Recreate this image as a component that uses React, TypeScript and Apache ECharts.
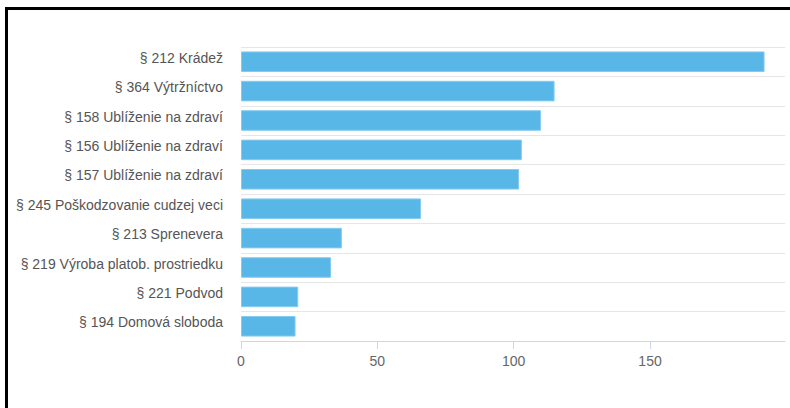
import React, { useEffect, useRef } from "react";
import * as echarts from "echarts";

const categories = [
  "§ 212 Krádež",
  "§ 364 Výtržníctvo",
  "§ 158 Ublíženie na zdraví",
  "§ 156 Ublíženie na zdraví",
  "§ 157 Ublíženie na zdraví",
  "§ 245 Poškodzovanie cudzej veci",
  "§ 213 Sprenevera",
  "§ 219 Výroba platob. prostriedku",
  "§ 221 Podvod",
  "§ 194 Domová sloboda",
];
const values = [192, 115, 110, 103, 102, 66, 37, 33, 21, 20];
const xTicks = [0, 50, 100, 150];

const FONT = "'Liberation Sans', Arial, sans-serif";

export default function App() {
  const ref = useRef<HTMLDivElement>(null);
  useEffect(() => {
    if (!ref.current) return;
    const chart = echarts.init(ref.current, null, { renderer: "svg" });
    chart.setOption({
      animation: false,
      grid: { left: 241, right: 5, top: 47, bottom: 67, containLabel: false },
      xAxis: {
        type: "value",
        min: 0,
        max: 199.5,
        splitLine: { show: false },
        axisLine: { show: true, lineStyle: { color: "#ccd6eb", width: 1 } },
        axisTick: {
          show: true,
          length: 8,
          customValues: xTicks,
          lineStyle: { color: "#ccd6eb" },
        },
        axisLabel: {
          customValues: xTicks,
          color: "#666666",
          fontSize: 14,
          fontFamily: FONT,
          margin: 13,
        },
      },
      yAxis: {
        type: "category",
        data: categories,
        inverse: true,
        axisLine: { show: false },
        axisTick: { show: false },
        splitLine: { show: true, lineStyle: { color: "#e6e6e6", width: 1 } },
        axisLabel: {
          color: "#555555",
          fontSize: 14,
          fontFamily: FONT,
          margin: 18,
          verticalAlign: "bottom",
          lineHeight: 8,
        },
      },
      series: [
        {
          type: "bar",
          data: values,
          barCategoryGap: "30%",
          itemStyle: {
            color: "#58b7e7",
            borderColor: "#86cbef",
            borderWidth: 1,
          },
        },
      ],
    });
    return () => chart.dispose();
  }, []);
  return (
    <div style={{ position: "absolute", left: 0, top: 0, width: 790, height: 408, background: "#fff", overflow: "hidden" }}>
      <div
        style={{
          position: "absolute",
          left: 5,
          top: 7,
          right: 0,
          bottom: 0,
          borderTop: "3px solid #000",
          borderLeft: "3px solid #000",
        }}
      />
      <div ref={ref} style={{ position: "absolute", left: 0, top: 0, width: 790, height: 408 }} />
    </div>
  );
}
